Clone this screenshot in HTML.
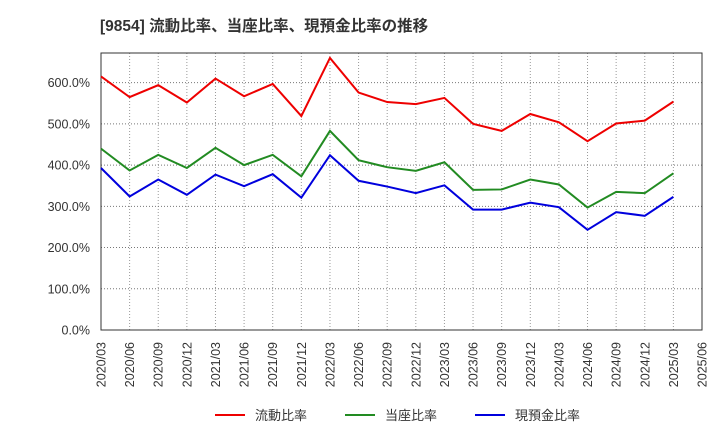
<!DOCTYPE html>
<html><head><meta charset="utf-8"><style>
body{margin:0;background:#fff;font-family:"Liberation Sans","Noto Sans CJK JP",sans-serif;}
</style></head><body>
<svg id="chart" width="720" height="440" xmlns="http://www.w3.org/2000/svg">
<text x="100" y="31" font-size="15.5" font-weight="bold" fill="#333" font-family="Liberation Sans, Noto Sans CJK JP, sans-serif">[9854]  流動比率、当座比率、現預金比率の推移</text>
<g id="grid"></g><g id="axes"></g><g id="series"></g><g id="legend"></g>
</svg>
<script>
const xLabels=["2020/03","2020/06","2020/09","2020/12","2021/03","2021/06","2021/09","2021/12","2022/03","2022/06","2022/09","2022/12","2023/03","2023/06","2023/09","2023/12","2024/03","2024/06","2024/09","2024/12","2025/03","2025/06"];
const yTicks=[0,100,200,300,400,500,600];
const current=[615,565,594,552,610,567,597,519,660,576,553,548,563,500,483,524,504,458,501,508,554];
const quick=[440,387,425,393,442,400,425,373,483,412,395,386,407,340,341,365,353,297,335,332,380];
const cash=[393,324,365,328,377,349,378,321,424,362,348,332,351,292,292,309,298,243,286,277,323];
const seriesNames=["流動比率","当座比率","現預金比率"];
const colors=["#e00","#228b22","#00d"];
const L=101,R=702,T=53,B=330,yMax=672;
const NS="http://www.w3.org/2000/svg";
const xs=i=>L+i*(R-L)/(xLabels.length-1);
const ys=v=>B-v/yMax*(B-T);
function mk(tag,attrs,parent,text){const e=document.createElementNS(NS,tag);for(const k in attrs)e.setAttribute(k,attrs[k]);if(text!==undefined)e.textContent=text;document.getElementById(parent).appendChild(e);return e;}
xLabels.forEach((l,i)=>{
 const g=mk('line',{x1:xs(i),x2:xs(i),y1:T,y2:B,stroke:'#999','stroke-dasharray':'1,2','stroke-width':1},'grid');
 
 const t=mk('text',{x:0,y:0,'font-size':12.5,fill:'#333','text-anchor':'end',transform:`translate(${xs(i)+4.5},${B+12}) rotate(-90)`},'axes',l);
 
});
yTicks.forEach(v=>{
 const g=mk('line',{x1:L,x2:R,y1:ys(v),y2:ys(v),stroke:'#777','stroke-dasharray':'1,2','stroke-width':1},'grid');
 
 const t=mk('text',{x:L-11,y:ys(v)+4.5,'font-size':12.5,fill:'#333','text-anchor':'end'},'axes',v.toFixed(1)+'%');
 
});
const fr=mk('rect',{x:L,y:T,width:R-L,height:B-T,fill:'none',stroke:'#333','stroke-width':1},'axes');

[current,quick,cash].forEach((d,si)=>{
 const p=mk('polyline',{points:d.map((v,i)=>xs(i)+','+ys(v)).join(' '),fill:'none',stroke:colors[si],'stroke-width':2},'series');
 
});
const lx=[215,345,475];
seriesNames.forEach((n,i)=>{
 const l=mk('line',{x1:lx[i],x2:lx[i]+30,y1:415,y2:415,stroke:colors[i],'stroke-width':2},'legend');
 
 const t=mk('text',{x:lx[i]+40,y:420,'font-size':13,fill:'#333'},'legend',n);
 
});
</script>
</body></html>
